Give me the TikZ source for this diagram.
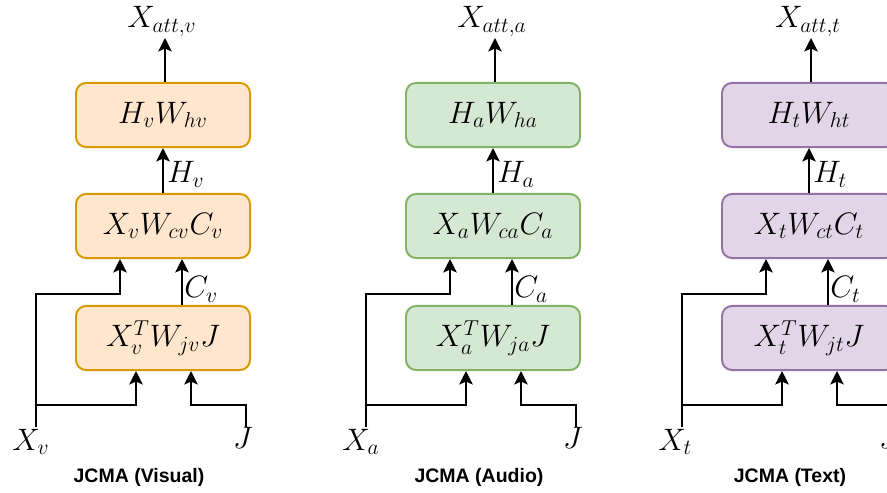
\documentclass[tikz,border=0pt]{standalone}
\usepackage{fontspec}
\newfontfamily\capfont{Liberation Sans}
\usetikzlibrary{arrows.meta,calc}
\definecolor{orS}{HTML}{D79B00}\definecolor{orF}{HTML}{FFE6CC}
\definecolor{grS}{HTML}{82B366}\definecolor{grF}{HTML}{D5E8D4}
\definecolor{puS}{HTML}{9673A6}\definecolor{puF}{HTML}{E1D5E7}
\newcommand\mfont{\fontsize{17.28}{20}\selectfont}
\tikzset{
  box/.style={draw=#1S, fill=#1F, rounded corners=5.6pt, line width=1.1pt,
    minimum width=97pt, minimum height=35.7pt, inner sep=0pt, font=\mfont},
  arr/.style={line width=1.1pt, -{Stealth[length=7.5pt,width=7.5pt,inset=1.6pt]}},
  lab/.style={inner sep=0pt, font=\mfont},
  captxt/.style={inner sep=0pt, font=\capfont\bfseries\fontsize{10.87}{13}\selectfont}
}
\newcommand\jpanel[6]{%
\begin{scope}[shift={(#2,0)}]
\node[box=#4] (top#1) at (163,115) {$H_#3W_{h#3}$};
\node[box=#4] (mid#1) at (163,226) {$X_#3W_{c#3}C_#3$};
\node[box=#4] (bot#1) at (163,338) {$X_#3^TW_{j#3}J$};
\node[lab, anchor=base] (att#1) at (162,28) {$X_{att,#3}$};
\node[lab, anchor=base west] (hl#1) at (167,183) {$H_#3$};
\node[lab, anchor=base west] (cl#1) at (184,298) {$C_#3$};
\node[lab, anchor=base west] (xl#1) at (12,450) {$X_#3$};
\node[lab, anchor=base] (jl#1) at (243,449) {$J$};
\node[captxt] (cap#1) at (#6,477) {#5};
\coordinate (ot#1) at (165,38);
\coordinate (xs#1) at (36,427);
\coordinate (js#1) at (246,427);
\coordinate (k#1) at (120,294);
\coordinate (cx#1) at (182,0);
\coordinate (jn#1) at (36,405);
\coordinate (bx#1) at (136,0);
\coordinate (jk#1) at (191,405);
\draw[arr] (top#1.north -| ot#1) -- (ot#1);
\draw[arr] (mid#1) -- (top#1);
\draw[arr] (bot#1.north -| cx#1) -- (mid#1.south -| cx#1);
\draw[arr] (xs#1) |- (k#1) -- (mid#1.south -| k#1);
\draw[arr] (jn#1) -| (bot#1.south -| bx#1);
\draw[arr] (js#1) |- (jk#1) -- (bot#1.south -| jk#1);
\end{scope}}
\begin{document}
\begin{tikzpicture}[x=0.5574pt,y=-0.5574pt]
\useasboundingbox (0,0) rectangle (887,493);
\clip (0,0) rectangle (887,493);
\jpanel{1}{0}{v}{or}{JCMA (Visual)}{139}
\jpanel{2}{330}{a}{gr}{JCMA (Audio)}{149}
\jpanel{3}{646}{t}{pu}{JCMA (Text)}{144}
\end{tikzpicture}
\end{document}
